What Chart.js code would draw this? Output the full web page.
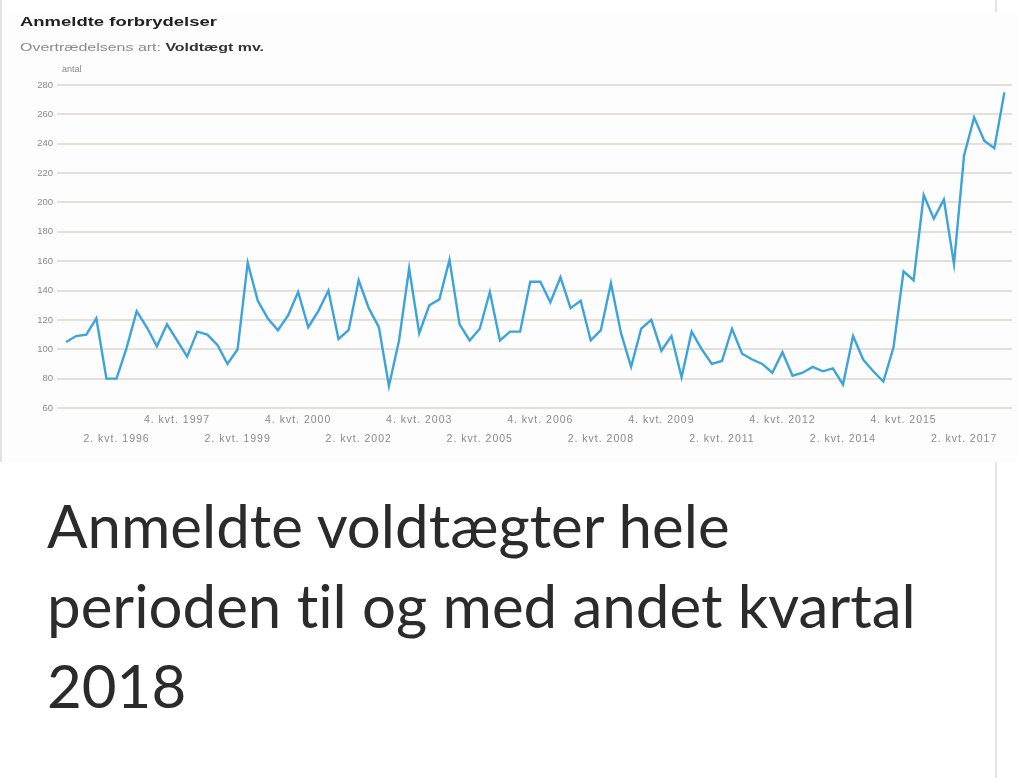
<!DOCTYPE html>
<html>
<head>
<meta charset="utf-8">
<script src="https://cdn.jsdelivr.net/npm/chart.js@4.4.1/dist/chart.umd.min.js"></script>
<style>
  body { margin: 0; background: #fff; width: 1018px; height: 778px; overflow: hidden; position: relative; font-family: "Liberation Sans", Arial, sans-serif; }
  #frame { position: absolute; left: 8px; top: 12px; width: 1010px; height: 450px; background: #fdfdfd; }
  #wrap { position: absolute; left: 0; top: 0; width: 1018px; height: 460px; }
  .t { position: absolute; white-space: nowrap; transform-origin: 0 0; }
  #title { left: 20px; top: 14px; font-size: 13px; font-weight: bold; color: #222; transform: scaleX(1.42); }
  #sub { left: 20px; top: 41px; font-size: 11px; color: #8a8a8a; transform: scaleX(1.45); }
  #sub b { color: #333; font-weight: bold; }
  #unit { left: 62px; top: 64px; font-size: 9px; color: #888; }
  #caption { position: absolute; left: 47px; top: 485px; font-family: Lato, "Open Sans", sans-serif; font-size: 60px; line-height: 80px; color: #2b2b2b; width: 960px; font-variant-ligatures: none; }
  .vline { position: absolute; width: 2px; background: #e2e2e2; }
</style>
</head>
<body>
<div class="vline" style="left:0;top:0;height:462px;"></div>
<div class="vline" style="left:995px;top:0;height:14px;"></div>
<div class="vline" style="left:995px;top:460px;height:318px;"></div>
<div id="frame"></div>
<div id="wrap"><canvas id="c" width="1018" height="460"></canvas></div>
<div class="t" id="title">Anmeldte forbrydelser</div>
<div class="t" id="sub">Overtrædelsens art: <b>Voldtægt mv.</b></div>
<div class="t" id="unit">antal</div>
<div id="caption">Anmeldte voldtægter hele<br>perioden til og med andet kvartal<br>2018</div>
<script>
// kvartaler fra 1. kvt. 1995 til 2. kvt. 2018
const firstYear = 1995;
const quarters = [];
for (let y = firstYear; y <= 2018; y++) {
  for (let q = 1; q <= 4; q++) {
    if (y === 2018 && q > 2) break;
    quarters.push(q + '. kvt. ' + y);
  }
}

const antal = [
  105, 109, 110, 121, 80, 80, 101, 126, 115, 102,
  117, 106, 95, 112, 110, 103, 90, 100, 159, 133,
  121, 113, 123, 139, 115, 126, 140, 107, 113, 147,
  128, 115, 75, 106, 155, 111, 130, 134, 161, 117,
  106, 114, 139, 106, 112, 112, 146, 146, 132, 149,
  128, 133, 106, 113, 145, 111, 88, 114, 120, 99,
  109, 81, 112, 100, 90, 92, 114, 97, 93, 90,
  84, 98, 82, 84, 88, 85, 87, 76, 109, 93,
  85, 78, 101, 153, 147, 205, 189, 202, 158, 232,
  258, 242, 237, 275
];

// viste kvartalsmærker (hvert 6. kvartal)
const tickQuarters = [
  '2. kvt. 1996', '4. kvt. 1997', '2. kvt. 1999', '4. kvt. 2000', '2. kvt. 2002',
  '4. kvt. 2003', '2. kvt. 2005', '4. kvt. 2006', '2. kvt. 2008', '4. kvt. 2009',
  '2. kvt. 2011', '4. kvt. 2012', '2. kvt. 2014', '4. kvt. 2015', '2. kvt. 2017'
];
const yTicks = [60, 80, 100, 120, 140, 160, 180, 200, 220, 240, 260, 280];

const points = antal.map((v, i) => ({ x: i, y: v }));
const tickIdx = tickQuarters.map(l => quarters.indexOf(l));

new Chart(document.getElementById('c'), {
  type: 'line',
  data: {
    datasets: [{
      label: 'antal',
      data: points,
      borderColor: '#3da4da',
      borderWidth: 2.4,
      pointRadius: 0,
      tension: 0,
      fill: false
    }]
  },
  options: {
    animation: false,
    responsive: false,
    devicePixelRatio: 1,
    layout: { padding: { top: 85, right: 6, left: 0, bottom: 0 } },
    plugins: {
      legend: { display: false },
      tooltip: { enabled: false }
    },
    scales: {
      x: {
        type: 'linear',
        min: -0.9,
        max: 93.75,
        grid: { display: false, drawTicks: false },
        border: { display: false },
        afterBuildTicks(s) { s.ticks = tickIdx.map(v => ({ value: v })); },
        afterFit(s) { s.height = 52; },
        ticks: {
          z: 1,
          autoSkip: false,
          maxRotation: 0,
          minRotation: 0,
          padding: 3,
          color: '#8a8a8a',
          font: { size: 10.5, family: 'Liberation Sans', lineHeight: 1.8 },
          callback(v) {
            const k = tickIdx.indexOf(v);
            if (k < 0) return '';
            return k % 2 === 0 ? ['', quarters[v]] : [quarters[v], ''];
          }
        }
      },
      y: {
        min: 60,
        max: 280,
        grid: { color: '#e3e0da', lineWidth: 2, drawTicks: false },
        border: { display: false },
        afterBuildTicks(s) { s.ticks = yTicks.map(v => ({ value: v })); },
        afterFit(s) { s.width = 57; },
        ticks: {
          padding: 4,
          color: '#8a8a8a',
          font: { size: 9.5, family: 'Liberation Sans' }
        }
      }
    }
  },
  plugins: [{
    // x-aksens tekst er bredt trukket i originalen
    id: 'spacing',
    afterDatasetsDraw(chart) { chart.ctx.letterSpacing = '1px'; },
    afterDraw(chart) { chart.ctx.letterSpacing = '0px'; }
  }]
});
</script>
</body>
</html>
